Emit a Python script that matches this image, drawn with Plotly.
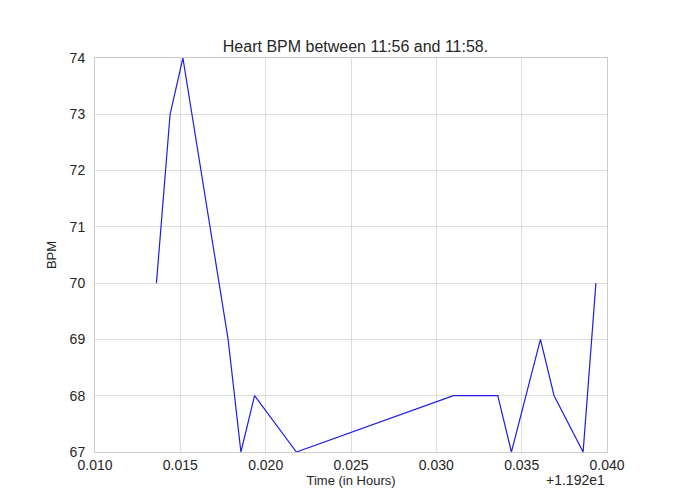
import plotly.graph_objects as go

offset = 11.92
time_offsets = [0.01360, 0.01440, 0.01515, 0.01780, 0.01855, 0.01935, 0.02180,
                0.03100, 0.03360, 0.03440, 0.03610, 0.03690, 0.03860, 0.03935]
bpm = [70, 73, 74, 69, 67, 68, 67, 68, 68, 67, 69, 68, 67, 70]
xtick_vals = [0.010, 0.015, 0.020, 0.025, 0.030, 0.035, 0.040]
xtick_text = ["0.010", "0.015", "0.020", "0.025", "0.030", "0.035", "0.040"]
ytick_vals = [67, 68, 69, 70, 71, 72, 73, 74]

times = [offset + t for t in time_offsets]

fig = go.Figure(go.Scatter(x=times, y=bpm, mode="lines",
                           line=dict(color="rgb(30,30,230)", width=1.2)))
fig.update_layout(
    width=695, height=494, paper_bgcolor="white", plot_bgcolor="white",
    margin=dict(l=87, r=96, t=50, b=50, autoexpand=False), showlegend=False,
    font=dict(family="Liberation Sans, Arial", size=13, color="#262626"),
    title=dict(text="Heart BPM between 11:56 and 11:58.", x=0.5, xanchor="center",
               y=1 - 38/494, yanchor="middle", font=dict(size=16)),
    xaxis=dict(range=[offset + 0.010, offset + 0.040], automargin=False,
               tickvals=[offset + v for v in xtick_vals], ticktext=xtick_text,
               tickfont=dict(size=14),
               showgrid=True, gridcolor="#dddddd", zeroline=False,
               showline=True, linecolor="#cccccc", mirror=True, ticks="",
               title=dict(text="Time (in Hours)", standoff=4, font=dict(size=13))),
    yaxis=dict(range=[67, 74], tickvals=ytick_vals, automargin=False,
               tickfont=dict(size=14), ticklabelstandoff=6,
               showgrid=True, gridcolor="#dddddd", zeroline=False,
               showline=True, linecolor="#cccccc", mirror=True, ticks="",
               title=dict(text="BPM", standoff=10, font=dict(size=13))),
    annotations=[dict(text="+1.192e1", xref="paper", yref="paper", x=1.0, y=0,
                      xanchor="right", yanchor="top", yshift=-18, showarrow=False,
                      font=dict(size=14))],
)
fig.write_html("out.html")
